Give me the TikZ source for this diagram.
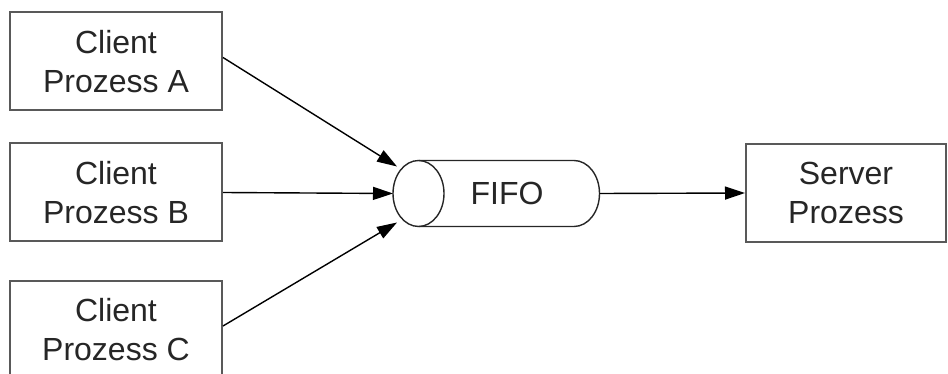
\documentclass[tikz,border=0pt]{standalone}
\usepackage{fontspec}
\setmainfont{Liberation Sans}
\usetikzlibrary{positioning, arrows.meta, calc}

\tikzset{
  procbox/.style={draw=black!65, line width=2pt, fill=white, minimum width=212pt,
    minimum height=98pt, align=center, text=black!85, inner sep=0pt,
    font=\fontsize{32}{39}\selectfont},
  pipe/.style={draw=black!85, line width=1.4pt},
  flow/.style={-{Triangle[length=20pt,width=13pt]}, line width=1.4pt, black}
}

\begin{document}
\begin{tikzpicture}[x=1pt, y=-1pt]
  \clip (0,0) rectangle (948,374);
  % clients on the left
  \node[procbox] (ca) at (116,61.5) {Client\\Prozess A};
  \node[procbox] (cb) at (116,192.5) {Client\\Prozess B};
  \node[procbox] (cc) at (116,330) {Client\\Prozess C};
  \node[procbox, minimum width=200pt] (srv) at (846,193) {Server\\Prozess};

  % the pipe, lying on its side
  \draw[pipe] (418.5,160.5) -- (574,160.5)
    arc[start angle=-90, end angle=90, x radius=25.5, y radius=33] -- (418.5,226.5);
  \draw[pipe] (418.5,193.5) ellipse[x radius=25.5, y radius=33];
  \node[text=black!85, font=\fontsize{32}{39}\selectfont] (fifo) at (507,193.5) {FIFO};
  \coordinate (inlet) at (393,193.5);
  \coordinate (outlet) at (599.5,193.5);

  \draw[flow] ([yshift=4pt]ca.east) -- ($(inlet)+(4,-27)$);
  \draw[flow] (cb.east) -- (inlet);
  \draw[flow] ([yshift=4pt]cc.east) -- ($(inlet)+(4,29)$);
  \draw[flow] (outlet) -- (srv.west);
\end{tikzpicture}
\end{document}
